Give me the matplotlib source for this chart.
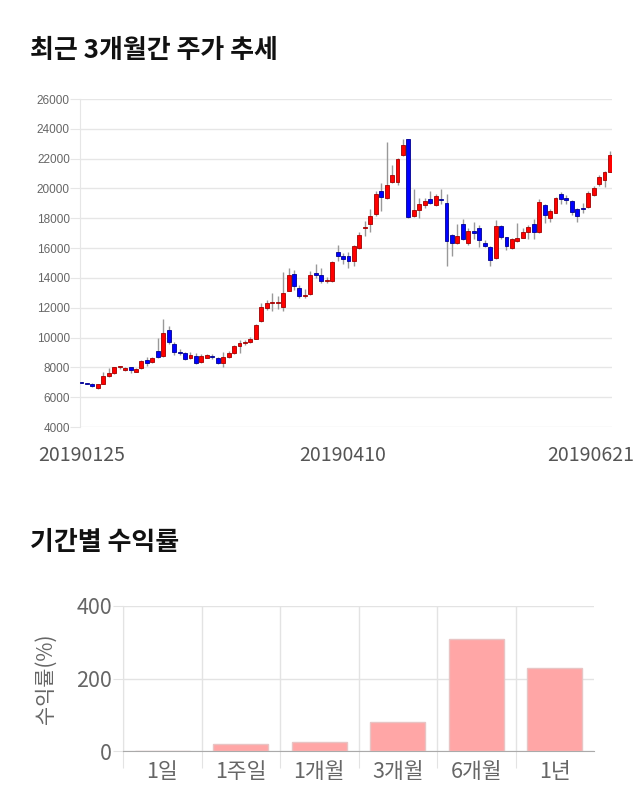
import numpy as np
import matplotlib
matplotlib.use("Agg")
import matplotlib.pyplot as plt
import matplotlib.transforms as mtransforms

plt.rcParams['font.family'] = ['Noto Sans CJK KR', 'DejaVu Sans']

# 최근 3개월 일봉 (시가, 고가, 저가, 종가)
opens = [7000, 6930, 6910, 6620, 6910, 7400, 7630, 8000, 7800, 8010,
         7720, 7940, 8500, 8340, 9100, 8750, 10530, 9580, 9020, 8980,
         8620, 8750, 8360, 8640, 8780, 8620, 8270, 8710, 8980, 9460,
         9640, 9690, 9930, 11090, 11970, 12320, 12320, 12020, 13150, 14280,
         13330, 12770, 12930, 14350, 14210, 13790, 13790, 15750, 15480, 15440,
         15140, 16000, 17340, 17600, 18260, 19820, 19330, 20440, 20440, 22220,
         23300, 18150, 18550, 18890, 19310, 18890, 19220, 19050, 16890, 16310,
         17600, 16310, 17160, 17380, 16310, 16050, 15320, 17490, 16760, 16000,
         16450, 16710, 17090, 17600, 17110, 18890, 18000, 18380, 19650, 19330,
         19160, 18600, 18710, 18760, 19560, 20310, 20600, 21090]
highs = [7010, 6950, 6930, 6880, 7670, 7940, 8050, 8120, 8050, 8050,
         7930, 8520, 8680, 8700, 9970, 11250, 10750, 9680, 9200, 9040,
         9020, 8930, 8900, 8870, 8890, 8710, 9020, 9090, 9530, 9820,
         9820, 10040, 10900, 12350, 12530, 13000, 12760, 14370, 14650, 14500,
         13550, 13250, 14460, 14910, 14640, 14060, 15150, 16200, 15660, 15710,
         16200, 17050, 17820, 18600, 19820, 20370, 23110, 21560, 22040, 23310,
         23300, 19950, 19370, 19330, 19860, 19600, 19980, 19600, 16940, 17600,
         17930, 17380, 17780, 17540, 16540, 16160, 17890, 17540, 16760, 16670,
         17710, 17380, 17530, 17930, 19270, 18940, 18600, 19450, 19780, 19530,
         19200, 18670, 19000, 19820, 20160, 20870, 21160, 22490]
lows = [6950, 6880, 6670, 6580, 6880, 7380, 7560, 7900, 7760, 7640,
        7700, 7880, 8120, 8300, 8660, 8700, 9570, 8850, 8800, 8500,
        8530, 8200, 8310, 8600, 8560, 8200, 8000, 8640, 8870, 8980,
        9530, 9650, 9900, 11020, 11880, 11750, 11910, 11750, 13100, 13220,
        12660, 12660, 12880, 13990, 13680, 13680, 13750, 15140, 14910, 14640,
        14800, 15950, 16820, 17050, 18150, 18510, 19260, 20370, 20240, 22150,
        18050, 18100, 18040, 18710, 18930, 18820, 18980, 14830, 15490, 16250,
        16560, 16200, 16600, 16050, 16050, 14780, 15280, 16600, 15890, 15940,
        16400, 16650, 16600, 16600, 16980, 17710, 17760, 18330, 18940, 18940,
        18200, 17760, 18380, 18710, 19490, 20160, 20090, 21090]
closes = [6980, 6900, 6760, 6870, 7400, 7630, 8010, 8010, 7990, 7830,
          7900, 8410, 8280, 8630, 8700, 10310, 9730, 9040, 8950, 8580,
          8800, 8270, 8750, 8800, 8710, 8270, 8710, 8980, 9460, 9640,
          9650, 9930, 10860, 12040, 12350, 12330, 12320, 12990, 14170, 13450,
          12770, 12880, 14210, 14210, 13790, 13790, 15100, 15440, 15300, 15140,
          16110, 16870, 17400, 18180, 19660, 19440, 20200, 20930, 21970, 22930,
          18090, 18550, 18930, 19150, 19040, 19490, 19200, 16450, 16310, 16780,
          16600, 17160, 17000, 16540, 16160, 15200, 17490, 16760, 16160, 16600,
          16710, 17110, 17420, 17110, 19110, 18220, 18500, 19380, 19310, 19220,
          18450, 18160, 18600, 19710, 20000, 20760, 21090, 22270]
date_labels = ['20190125', '20190410', '20190621']
date_index = [0, 48, 97]

# 기간별 수익률
periods = ['1일', '1주일', '1개월', '3개월', '6개월', '1년']
returns = [0, 19, 26, 79, 308, 229]

fig = plt.figure(figsize=(6.4, 8.1), dpi=100)

# ---- 주가 추세 (캔들) ----
fig.text(30 / 640, 1 - 51 / 810, '최근 3개월간 주가 추세', fontsize=18.7,
         fontweight='bold', va='center', ha='left', color='#111111')

ax = fig.add_axes([79.6 / 640, 1 - 427 / 810, (612 - 79.6) / 640, 328 / 810])
o = np.array(opens)
c = np.array(closes)
x = np.arange(len(o))
up = c >= o
bottom = np.minimum(o, c)
height = np.maximum(np.abs(c - o), 60)

ax.vlines(x, lows, highs, color='#999999', linewidth=1, zorder=2)
ax.bar(x[up], height[up], bottom=bottom[up], width=0.72, color='#ff0000',
       edgecolor='#a00000', linewidth=0.6, zorder=3)
ax.bar(x[~up], height[~up], bottom=bottom[~up], width=0.72, color='#0000ff',
       edgecolor='#000090', linewidth=0.6, zorder=3)

ax.set_ylim(4000, 26000)
ax.set_xlim(-0.35, len(o) - 1 + 0.37)
ax.set_yticks(np.arange(4000, 26001, 2000))
ax.grid(axis='y', color='#e6e6e6', linewidth=1)
ax.set_axisbelow(True)
for s in ['top', 'right', 'bottom']:
    ax.spines[s].set_visible(False)
ax.spines['left'].set_color('#e6e6e6')
ax.tick_params(axis='y', length=7, color='#e6e6e6', pad=0, labelsize=8.5,
               labelcolor='#666666')
for t in ax.get_yticklabels():
    t.set_family(['Liberation Sans', 'DejaVu Sans'])
ax.set_xticks(date_index)
ax.set_xticklabels(date_labels)
ax.tick_params(axis='x', length=0, pad=13, labelsize=14, labelcolor='#555555')
# 마지막 날짜 라벨은 그림 안으로 당김
last = ax.get_xticklabels()[-1]
last.set_transform(last.get_transform() +
                   mtransforms.ScaledTranslation(-0.19, 0, fig.dpi_scale_trans))

# ---- 기간별 수익률 ----
fig.text(30 / 640, 1 - 543 / 810, '기간별 수익률', fontsize=18.7,
         fontweight='bold', va='center', ha='left', color='#111111')

ax2 = fig.add_axes([123 / 640, 1 - 751 / 810, (594 - 123) / 640, 145 / 810])
pos = np.arange(len(periods))
ax2.bar(pos, returns, width=0.7, color='#ffa6a6', edgecolor='#e8c4c4',
        linewidth=1, zorder=3)
ax2.set_xlim(-0.5, len(periods) - 0.5)
ax2.set_ylim(0, 400)
ax2.set_yticks([0, 200, 400])
ax2.grid(axis='y', color='#e3e3e3', linewidth=1)
# 구간 경계선 (왼쪽 경계만)
ax2.set_xticks(np.arange(-0.5, len(periods) - 1), minor=False)
ax2.set_xticklabels([])
ax2.set_xticks(pos, minor=True)
ax2.set_xticklabels(periods, minor=True)
ax2.grid(axis='x', which='major', color='#e3e3e3', linewidth=1)
ax2.tick_params(axis='x', which='major', length=12, color='#e3e3e3')
ax2.tick_params(axis='x', which='minor', length=0, pad=7, labelsize=15.5,
                labelcolor='#666666')
ax2.tick_params(axis='y', length=7, color='#e3e3e3', pad=1, labelsize=15.5,
                labelcolor='#666666')
for s in ['top', 'right']:
    ax2.spines[s].set_visible(False)
ax2.spines['left'].set_color('#e3e3e3')
ax2.spines['bottom'].set_color('#aaaaaa')
ax2.set_axisbelow(True)
ax2.set_ylabel('수익률(%)', fontsize=15, color='#666666')
ax2.yaxis.set_label_coords(-0.14, 0.5)

fig.savefig('out.png', dpi=100)
